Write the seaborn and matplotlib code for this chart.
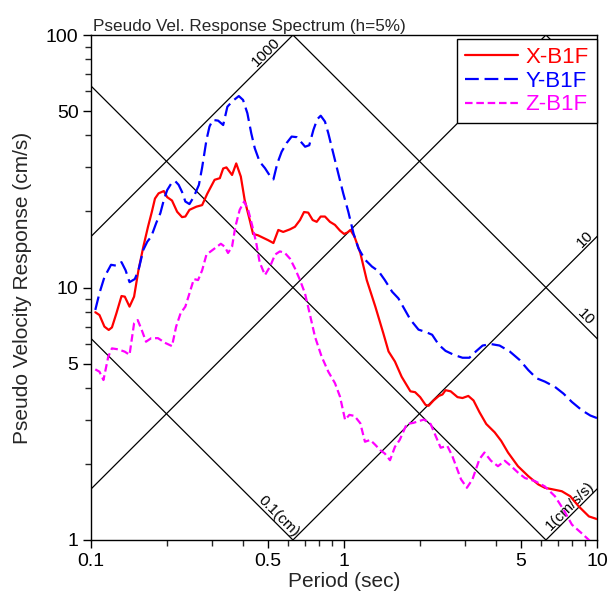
import numpy as np
import pandas as pd
import matplotlib
matplotlib.use("Agg")
import matplotlib.pyplot as plt
import seaborn as sns

# ---------------- data ----------------
x_period = [0.104, 0.108, 0.113, 0.1175, 0.121, 0.126, 0.132, 0.136, 0.142, 0.148,
            0.154, 0.161, 0.168, 0.174, 0.179, 0.185, 0.194, 0.200, 0.209, 0.219,
            0.229, 0.236, 0.245, 0.261, 0.275, 0.288, 0.308, 0.323, 0.333, 0.343,
            0.361, 0.375, 0.391, 0.405, 0.424, 0.437, 0.457, 0.501, 0.526, 0.550,
            0.575, 0.612, 0.640, 0.670, 0.695, 0.722, 0.752, 0.780, 0.809, 0.841,
            0.880, 0.921, 0.964, 1.00, 1.03, 1.06, 1.10, 1.16, 1.23, 1.33,
            1.43, 1.50, 1.59, 1.69, 1.83, 1.91, 2.00, 2.10, 2.16, 2.26,
            2.37, 2.45, 2.52, 2.64, 2.81, 2.94, 3.10, 3.25, 3.43, 3.65,
            3.94, 4.18, 4.45, 4.87, 5.35, 5.86, 6.22, 6.62, 7.26, 7.84,
            8.46, 9.29, 10.0]
x_vel = [7.98, 7.78, 7.0, 6.79, 6.95, 7.9, 9.25, 9.2, 8.4, 9.2,
         11.7, 14.5, 17.4, 19.95, 22.5, 23.6, 24.1, 22.8, 22.1, 19.95,
         19.0, 19.1, 20.3, 20.9, 21.2, 23.5, 26.7, 27.1, 29.6, 29.9,
         27.9, 31.0, 27.5, 22.2, 18.5, 16.3, 16.1, 15.4, 15.0, 16.9,
         16.6, 17.0, 17.4, 18.5, 19.9, 19.8, 18.5, 18.2, 19.1, 19.1,
         18.2, 17.7, 16.8, 16.3, 16.5, 16.9, 15.9, 13.7, 10.7, 8.4,
         6.59, 5.58, 5.09, 4.43, 3.88, 3.85, 3.68, 3.43, 3.40, 3.57,
         3.72, 3.77, 3.92, 3.88, 3.68, 3.65, 3.72, 3.57, 3.21, 2.88,
         2.67, 2.47, 2.22, 1.96, 1.79, 1.66, 1.61, 1.59, 1.56, 1.49,
         1.36, 1.24, 1.21]

y_period = [0.104, 0.108, 0.113, 0.120, 0.126, 0.132, 0.137, 0.142, 0.149, 0.154,
            0.161, 0.167, 0.173, 0.181, 0.188, 0.194, 0.200, 0.208, 0.215, 0.222,
            0.229, 0.236, 0.245, 0.255, 0.267, 0.275, 0.286, 0.294, 0.303, 0.318,
            0.333, 0.346, 0.364, 0.384, 0.399, 0.415, 0.430, 0.444, 0.464, 0.487,
            0.507, 0.526, 0.545, 0.567, 0.594, 0.621, 0.650, 0.681, 0.702, 0.729,
            0.757, 0.784, 0.809, 0.841, 0.867, 0.907, 0.949, 0.993, 1.04, 1.09,
            1.14, 1.21, 1.29, 1.37, 1.45, 1.55, 1.64, 1.83, 1.97, 2.10,
            2.23, 2.37, 2.52, 2.72, 2.94, 3.13, 3.32, 3.53, 3.81, 4.12,
            4.52, 4.95, 5.35, 5.77, 6.22, 6.82, 7.37, 7.96, 8.73, 9.42,
            10.0]
y_vel = [8.15, 9.5, 11.0, 12.3, 12.2, 12.6, 11.7, 10.5, 10.8, 11.7,
         14.1, 15.2, 15.9, 18.0, 19.7, 22.2, 24.3, 25.9, 26.4, 25.5,
         23.9, 21.9, 21.4, 22.9, 25.5, 29.9, 38.4, 43.4, 46.1, 45.8,
         44.0, 52.0, 54.9, 57.3, 55.3, 49.0, 40.8, 35.6, 31.5, 29.7,
         27.9, 26.8, 31.0, 34.5, 37.4, 39.6, 39.4, 37.4, 36.1, 36.6,
         42.1, 46.4, 47.9, 45.4, 40.8, 34.0, 28.3, 23.6, 19.95, 16.4,
         14.3, 12.9, 12.1, 11.6, 10.7, 9.62, 9.06, 7.46, 6.81, 6.67,
         6.50, 5.93, 5.61, 5.41, 5.27, 5.27, 5.58, 5.89, 5.97, 5.89,
         5.58, 5.16, 4.71, 4.37, 4.24, 4.04, 3.80, 3.52, 3.26, 3.11,
         3.04]

z_period = [0.104, 0.108, 0.112, 0.117, 0.121, 0.128, 0.136, 0.142, 0.148, 0.153,
            0.159, 0.165, 0.173, 0.184, 0.196, 0.209, 0.217, 0.226, 0.236, 0.245,
            0.255, 0.265, 0.275, 0.286, 0.303, 0.326, 0.338, 0.348, 0.361, 0.372,
            0.387, 0.403, 0.418, 0.433, 0.450, 0.464, 0.487, 0.510, 0.534, 0.558,
            0.584, 0.612, 0.640, 0.670, 0.701, 0.734, 0.768, 0.816, 0.867, 0.921,
            0.964, 1.01, 1.05, 1.10, 1.16, 1.21, 1.27, 1.33, 1.39, 1.45,
            1.52, 1.59, 1.66, 1.77, 1.88, 2.07, 2.20, 2.30, 2.41, 2.56,
            2.68, 2.90, 3.06, 3.22, 3.43, 3.59, 3.81, 4.06, 4.32, 4.58,
            4.87, 5.19, 5.69, 6.22, 6.82, 7.37, 7.96, 8.73, 9.29, 9.7]
z_vel = [4.74, 4.64, 4.30, 5.32, 5.74, 5.69, 5.57, 5.41, 7.21, 7.43,
         6.75, 6.10, 6.30, 6.30, 6.04, 5.86, 7.0, 7.91, 8.4, 9.48,
         10.8, 10.7, 11.7, 13.5, 14.1, 14.9, 14.5, 13.7, 14.5, 17.4,
         20.3, 21.9, 20.3, 17.7, 15.0, 12.6, 11.2, 12.1, 13.5, 13.9,
         13.7, 13.0, 11.9, 10.7, 9.48, 7.78, 6.38, 5.32, 4.64, 4.18,
         3.70, 2.99, 3.13, 3.10, 2.90, 2.45, 2.49, 2.38, 2.27, 2.20,
         2.07, 2.34, 2.49, 2.88, 2.91, 3.00, 2.88, 2.59, 2.32, 2.36,
         2.15, 1.74, 1.61, 1.74, 2.09, 2.22, 2.06, 1.96, 2.06, 1.96,
         1.85, 1.76, 1.71, 1.63, 1.49, 1.32, 1.15, 1.06, 1.0, 0.95]

series_names = ["X-B1F", "Y-B1F", "Z-B1F"]
series_colors = ["#FF0000", "#0000FF", "#FF00FF"]

# tripartite grid levels
disp_levels = [0.1, 1, 10, 100]      # cm
acc_levels = [1, 10, 100, 1000]      # cm/s/s

x_ticks = [0.1, 0.5, 1, 5, 10]
x_ticklabels = ["0.1", "0.5", "1", "5", "10"]
y_ticks = [1, 5, 10, 50, 100]
y_ticklabels = ["1", "5", "10", "50", "100"]

# ---------------- figure ----------------
sns.set_style("ticks")
plt.rcParams["font.family"] = ["Liberation Sans", "DejaVu Sans"]

df = pd.concat([
    pd.DataFrame({"Period": x_period, "Velocity": x_vel, "Component": series_names[0]}),
    pd.DataFrame({"Period": y_period, "Velocity": y_vel, "Component": series_names[1]}),
    pd.DataFrame({"Period": z_period, "Velocity": z_vel, "Component": series_names[2]}),
], ignore_index=True)

fig = plt.figure(figsize=(6.08, 5.98), dpi=100)
ax = fig.add_axes([91 / 608, 1 - 540 / 598, 506 / 608, 505 / 598])
ax.set_xscale("log")
ax.set_yscale("log")
ax.set_xlim(0.1, 10)
ax.set_ylim(1, 100)

# tripartite diagonal grid
tt = np.logspace(-2, 2, 50)
for d in disp_levels:
    ax.plot(tt, 2 * np.pi * d / tt, color="black", lw=0.9, zorder=1)
for a in acc_levels:
    ax.plot(tt, a * tt / (2 * np.pi), color="black", lw=0.9, zorder=1)

def diag_label(text, T, kind, level):
    if kind == "acc":
        v = level * T / (2 * np.pi)
        rot = 45
    else:
        v = 2 * np.pi * level / T
        rot = -45
    ax.text(T, v, text, rotation=rot, rotation_mode="anchor", ha="center",
            va="bottom", fontsize=11, color="black", zorder=2)

diag_label("1000", 0.514, "acc", 1000)
diag_label("10", 9.35, "acc", 10)
diag_label("10", 8.65, "disp", 10)
diag_label("0.1(cm)", 0.529, "disp", 0.1)
diag_label("1(cm/s/s)", 8.2, "acc", 1)

sns.lineplot(data=df, x="Period", y="Velocity", hue="Component", style="Component",
             palette=dict(zip(series_names, series_colors)),
             dashes={"X-B1F": "", "Y-B1F": (6.2, 2.6), "Z-B1F": (3.4, 1.7)},
             sort=False, estimator=None, lw=1.6, ax=ax, zorder=3)

ax.set_xticks(x_ticks)
ax.set_xticklabels(x_ticklabels)
ax.set_yticks(y_ticks)
ax.set_yticklabels(y_ticklabels)
ax.tick_params(which="major", direction="out", length=6, width=1, labelsize=14, pad=3,
               colors="black")
ax.tick_params(which="minor", direction="out", length=4.5, width=1)
ax.xaxis.set_minor_formatter(matplotlib.ticker.NullFormatter())
ax.yaxis.set_minor_formatter(matplotlib.ticker.NullFormatter())
for s in ax.spines.values():
    s.set_color("black")
    s.set_linewidth(1)

ax.set_xlabel("Period (sec)", fontsize=15, labelpad=2)
ax.set_ylabel("Pseudo Velocity Response (cm/s)", fontsize=15, labelpad=10)
ax.text(0.004, 1 + 4 / 505, "Pseudo Vel. Response Spectrum (h=5%)", transform=ax.transAxes,
        ha="left", va="baseline", fontsize=12.3)

leg = ax.legend(loc="upper right", bbox_to_anchor=(1, 1 - 4 / 505), borderaxespad=0,
                fontsize=16, frameon=True, fancybox=False, framealpha=1,
                edgecolor="black", handlelength=2.4, handletextpad=0.35,
                labelspacing=0.12, borderpad=0.36, title=None)
leg.get_frame().set_linewidth(1)
leg.set_zorder(5)
for txt, c in zip(leg.get_texts(), series_colors):
    txt.set_color(c)

fig.savefig("out.png", dpi=100)
